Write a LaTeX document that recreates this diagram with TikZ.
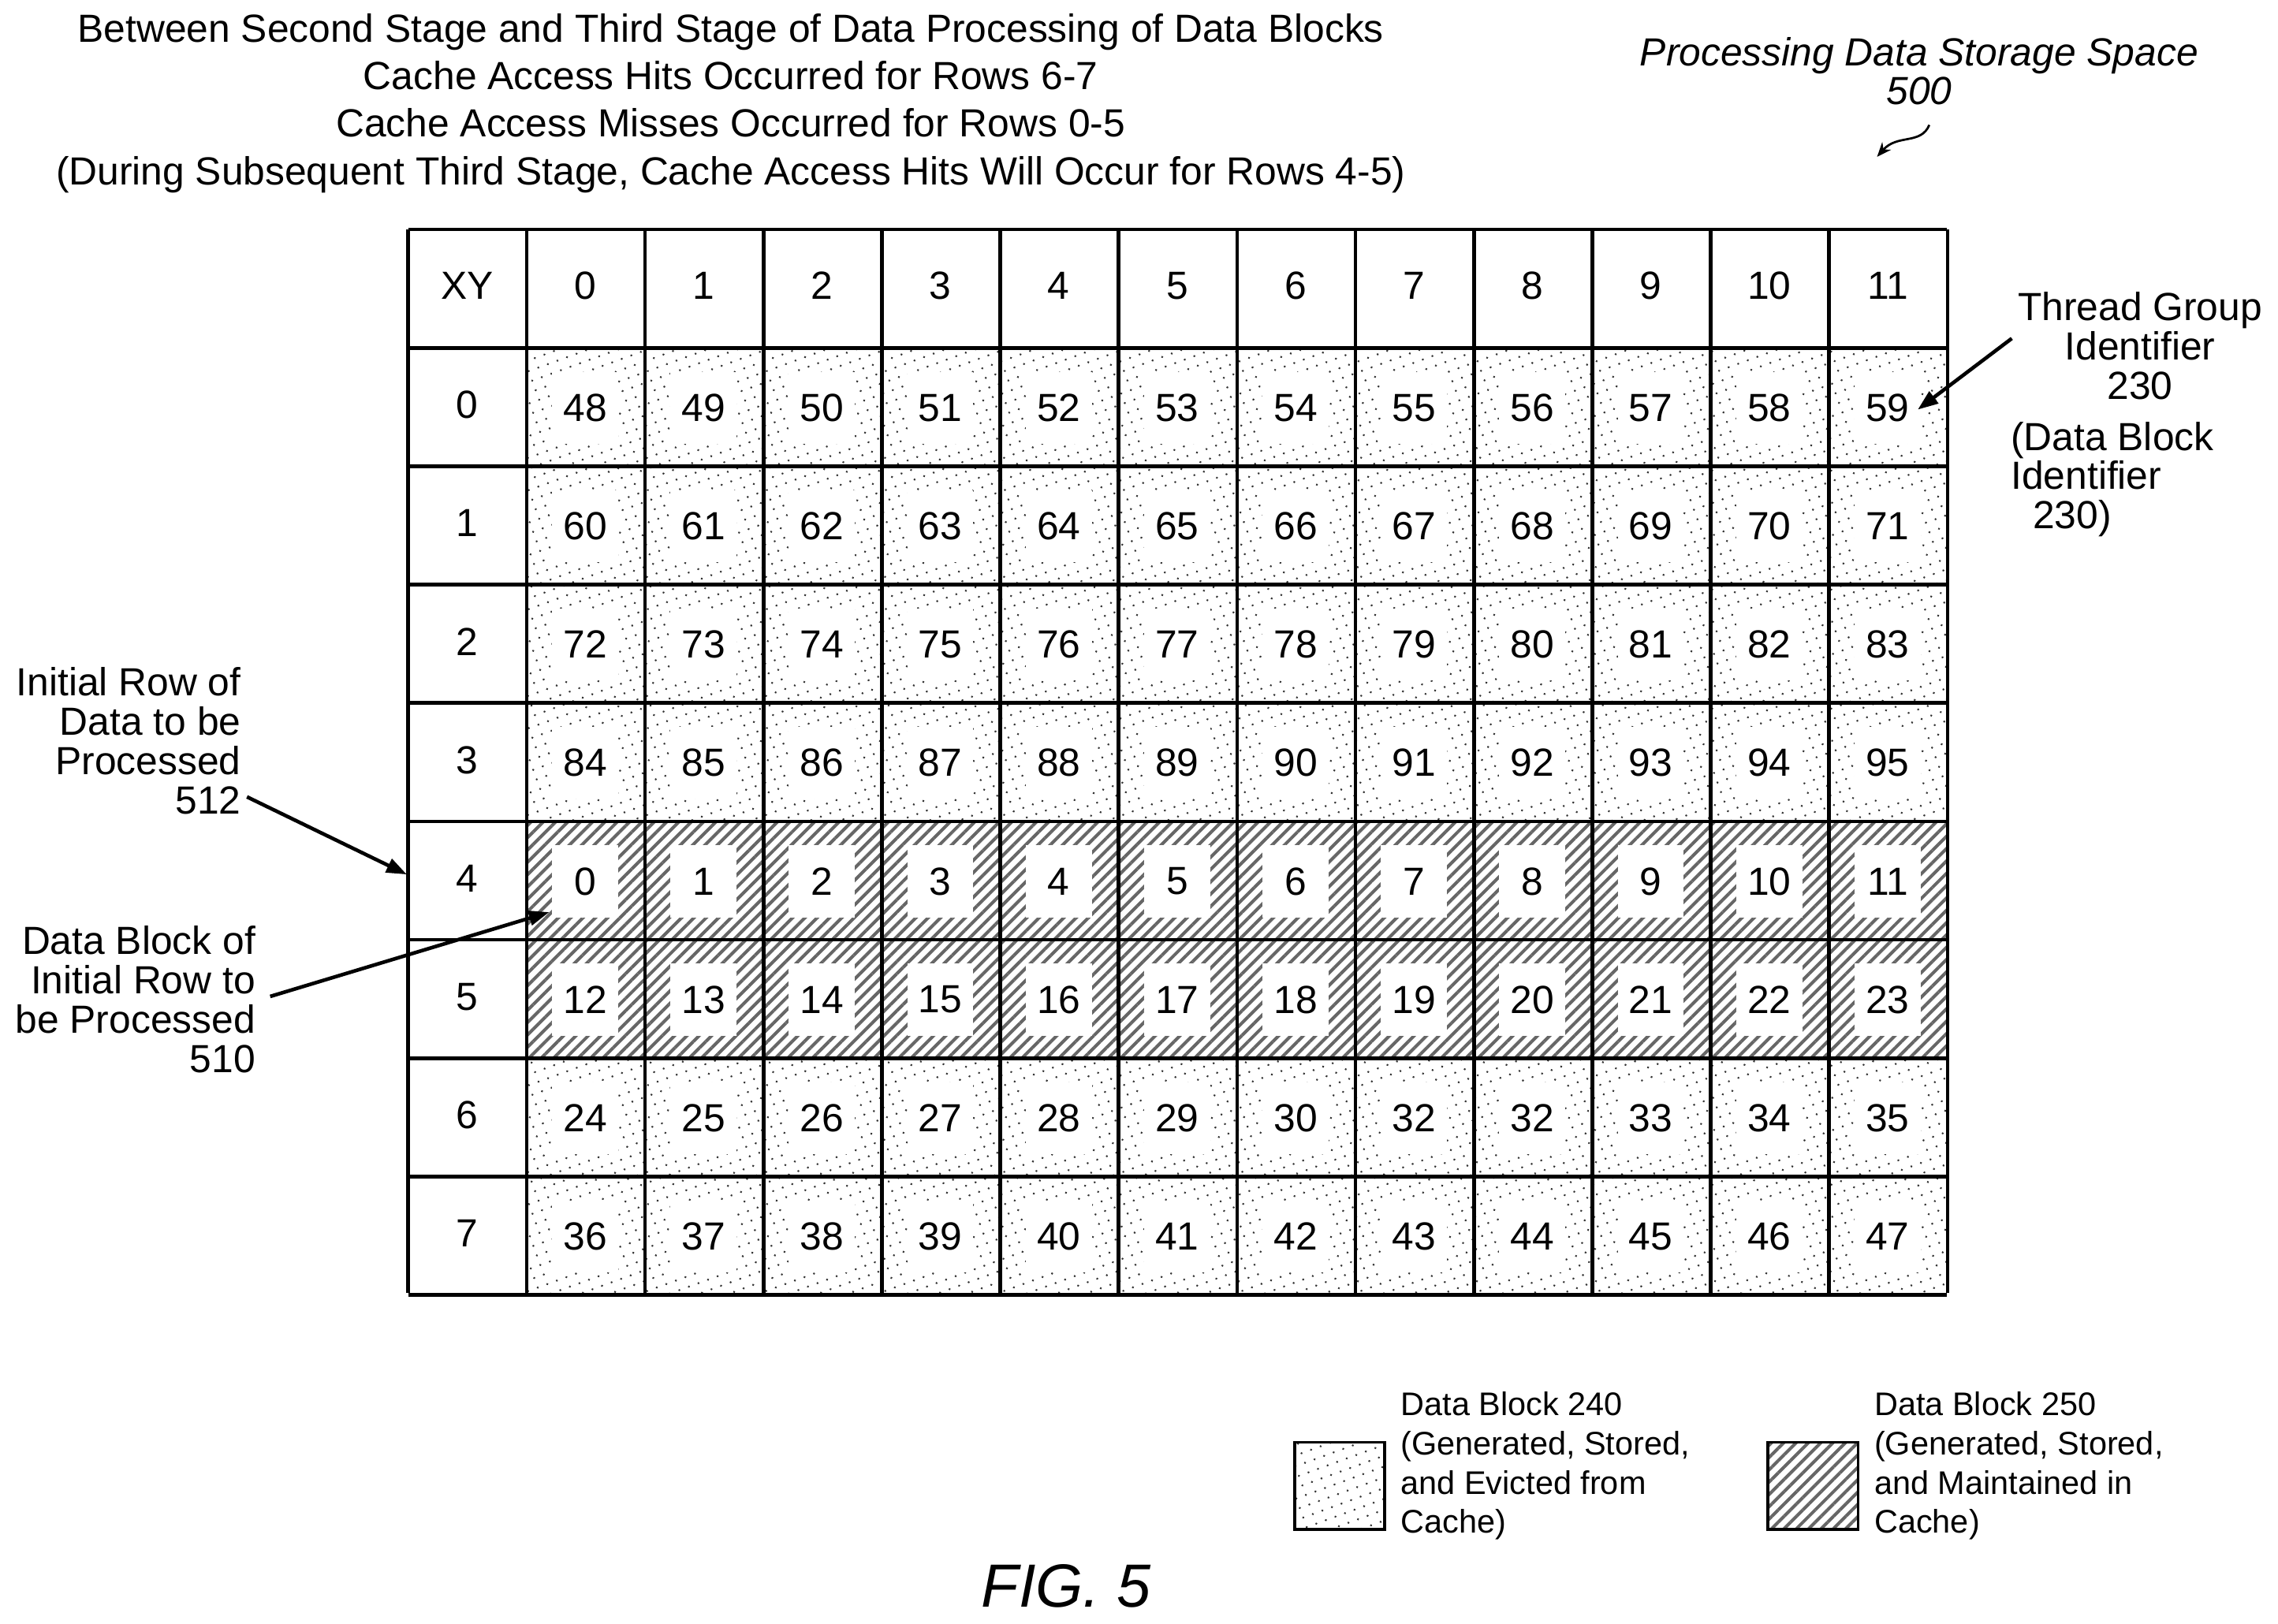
\documentclass[tikz,border=0pt]{standalone}
\usepackage{fontspec}
\setmainfont{Liberation Sans}
\usetikzlibrary{patterns.meta,arrows.meta}
\begin{document}
\begin{tikzpicture}[x=1pt,y=-1pt,
  txt/.style={font=\fontsize{27}{27}\selectfont,inner sep=0pt},
  num/.style={font=\fontsize{27}{27}\selectfont,inner sep=0pt},
  dotf/.style={pattern={Dots[distance=7pt,radius=0.8pt,angle=20]},pattern color=black!80},
  hatf/.style={pattern={Lines[distance=6pt,angle=45,line width=2.2pt]},pattern color=black!60},
  arr/.style={line width=2.5pt,-{Triangle[length=14pt,width=10pt]}}]
\useasboundingbox (0,0) rectangle (1568,1118);
\def\cw{81.5}
% cells
\foreach \r in {0,...,7}{
  \foreach \c in {0,...,11}{
    \pgfmathsetmacro\xa{362+\c*\cw}
    \pgfmathsetmacro\ya{240+\r*\cw}
    \pgfmathtruncatemacro\n{mod(\r+4,8)*12+\c}
    \ifnum\r=6 \ifnum\c=7 \def\n{32}\fi\fi
    \ifnum\r<4 \def\fs{dotf}\else\ifnum\r<6 \def\fs{hatf}\else\def\fs{dotf}\fi\fi
    \fill[\fs] (\xa,\ya) rectangle ++(\cw,\cw);
    \fill[white] (\xa+18,\ya+16) rectangle ++(45.5,49.5);
    \node[num] (c\r-\c) at (\xa+\cw/2,\ya+\cw/2) {\n};
  }
}
% grid
\foreach \i in {0,...,13}{\draw[line width=2.5pt] (281+\i*\cw,158) -- (281+\i*\cw,890);}
\foreach \j in {0,...,9}{\draw[line width=2.5pt] (281,158+\j*\cw) -- (1340,158+\j*\cw);}
\node[num] (xy) at (321.75,196.75) {XY};
\foreach \c in {0,...,11}{\node[num] (h\c) at (362+\c*\cw+\cw/2,196.75) {\c};}
\foreach \r in {0,...,7}{\node[num] (r\r) at (321.75,278.75+\r*\cw) {\r};}
% title
\node[txt,align=center,font=\fontsize{27}{32.7}\selectfont] (title) at (503,71) {Between Second Stage and Third Stage of Data Processing of Data Blocks\\Cache Access Hits Occurred for Rows 6-7\\Cache Access Misses Occurred for Rows 0-5\\(During Subsequent Third Stage, Cache Access Hits Will Occur for Rows 4-5)};
\node[txt,align=center,font=\fontsize{27}{27}\itshape] (pds) at (1321,49) {Processing Data Storage Space\\500};
\coordinate (sq) at (1328,86);
\draw[line width=1.5pt,-{Stealth[length=10pt,width=8pt]}] (sq) .. controls (1322,100) and (1306,92) .. (1292,108);
% side labels
\node[txt,align=right,anchor=east] (l512) at (166,510) {Initial Row of\\Data to be\\Processed\\512};
\node[txt,align=right,anchor=east] (l510) at (176,688) {Data Block of\\Initial Row to\\be Processed\\510};
\node[txt,align=center] (l230) at (1473,238) {Thread Group\\Identifier\\230};
\node[txt,align=left,anchor=west] (l230b) at (1384,330) {(Data Block\\Identifier\\\ \ 230)};
\draw[arr] (l512.south east) ++(4,-12) -- (280,602);
\draw[arr] (l510.east) ++(10,-2) -- (378,628);
\draw[arr] (l230.west) ++(-4,-5) -- (1320,282);
% legend
\draw[dotf,line width=2pt] (891,993) rectangle (953,1053);
\draw[hatf,line width=2pt] (1217,993) rectangle (1279,1053);
\node[txt,align=left,anchor=north west,font=\fontsize{22.5}{27}\selectfont] (lg1) at (964,958) {Data Block 240\\(Generated, Stored,\\and Evicted from\\Cache)};
\node[txt,align=left,anchor=north west,font=\fontsize{22.5}{27}\selectfont] (lg2) at (1290,958) {Data Block 250\\(Generated, Stored,\\and Maintained in\\Cache)};
\node[txt,font=\fontsize{42}{42}\itshape] (fig) at (734,1092) {FIG. 5};
\end{tikzpicture}
\end{document}
